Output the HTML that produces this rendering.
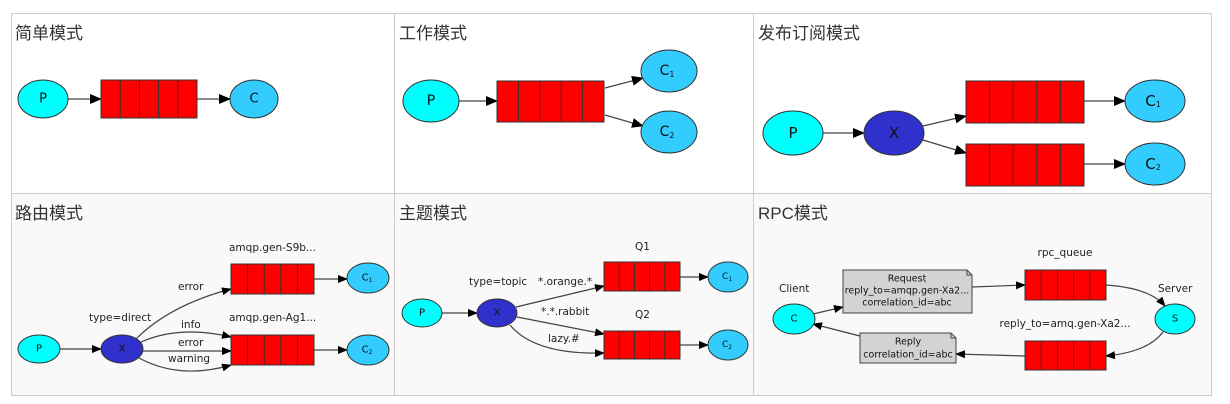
<!DOCTYPE html>
<html><head><meta charset="utf-8"><style>
html,body{margin:0;padding:0;background:#fff;width:1230px;height:404px;overflow:hidden}
svg{display:block}
.t{font-family:"Liberation Sans","Noto Sans CJK SC",sans-serif;font-size:17px;fill:#333}
.l{font-family:"DejaVu Sans","Liberation Sans",sans-serif;font-size:10.5px;fill:#222}
.n{font-family:"DejaVu Sans","Liberation Sans",sans-serif;fill:#111;text-anchor:middle;dominant-baseline:central}
.e{stroke:#333;stroke-width:1}
.a{stroke:#444;stroke-width:1.2;fill:none}
</style></head><body>
<svg width="1230" height="404" viewBox="0 0 1230 404" xmlns="http://www.w3.org/2000/svg">
<defs>
<marker id="m" markerWidth="12" markerHeight="10" refX="11" refY="5" orient="auto" markerUnits="userSpaceOnUse"><path d="M0,0 L12,5 L0,10 z" fill="#000"/></marker>
<marker id="s" markerWidth="10" markerHeight="8" refX="9" refY="4" orient="auto" markerUnits="userSpaceOnUse"><path d="M0,0 L10,4 L0,8 z" fill="#000"/></marker>
<g id="q5"><rect x="0" y="0" width="100" height="40" fill="#f00" stroke="#333"/></g>
</defs>
<rect x="11" y="193" width="1201" height="203" fill="#f9f9f9"/>
<g stroke="#ccc" stroke-width="1" fill="none">
<rect x="11.5" y="13.5" width="1200" height="382"/>
<line x1="11" y1="193.5" x2="1212" y2="193.5"/>
<line x1="394.5" y1="13" x2="394.5" y2="396"/>
<line x1="753.5" y1="13" x2="753.5" y2="396"/>
</g>
<text class="t" x="15" y="39">简单模式</text>
<text class="t" x="399" y="39">工作模式</text>
<text class="t" x="758" y="39">发布订阅模式</text>
<text class="t" x="15" y="219">路由模式</text>
<text class="t" x="399" y="219">主题模式</text>
<text class="t" x="758" y="219">RPC模式</text>

<!-- cell 1 -->
<line class="a" x1="68" y1="99" x2="101" y2="99" marker-end="url(#m)"/>
<line class="a" x1="197" y1="99" x2="230" y2="99" marker-end="url(#m)"/>
<ellipse class="e" cx="43" cy="99" rx="25" ry="19" fill="#0ff"/><text class="n" x="43" y="99" font-size="13">P</text>
<g stroke="#333" fill="#f00"><rect x="101" y="80" width="96" height="38"/><path d="M120.2,80v38M139.4,80v38M158.6,80v38M177.8,80v38"/></g>
<ellipse class="e" cx="254" cy="99" rx="24" ry="19" fill="#3cf"/><text class="n" x="254" y="99" font-size="13">C</text>

<!-- cell 2 -->
<line class="a" x1="459" y1="101" x2="497" y2="101" marker-end="url(#m)"/>
<line class="a" x1="605" y1="88" x2="643" y2="78" marker-end="url(#m)"/>
<line class="a" x1="605" y1="115" x2="643" y2="126" marker-end="url(#m)"/>
<ellipse class="e" cx="431" cy="101" rx="28" ry="21" fill="#0ff"/><text class="n" x="431" y="101" font-size="14">P</text>
<g stroke="#333" fill="#f00"><rect x="497" y="81" width="107" height="41"/><path d="M518.4,81v41M539.8,81v41M561.2,81v41M582.6,81v41"/></g>
<ellipse class="e" cx="669" cy="71" rx="28" ry="21" fill="#3cf"/><text class="n" x="667" y="71" font-size="14">C<tspan font-size="8" dy="3">1</tspan></text>
<ellipse class="e" cx="669" cy="132" rx="28" ry="21" fill="#3cf"/><text class="n" x="667" y="132" font-size="14">C<tspan font-size="8" dy="3">2</tspan></text>

<!-- cell 3 -->
<line class="a" x1="823" y1="133" x2="864" y2="133" marker-end="url(#m)"/>
<line class="a" x1="923" y1="126" x2="966" y2="116" marker-end="url(#m)"/>
<line class="a" x1="923" y1="140" x2="966" y2="153" marker-end="url(#m)"/>
<line class="a" x1="1084" y1="101" x2="1125" y2="101" marker-end="url(#m)"/>
<line class="a" x1="1084" y1="164" x2="1125" y2="164" marker-end="url(#m)"/>
<ellipse class="e" cx="793" cy="133" rx="30" ry="22" fill="#0ff"/><text class="n" x="793" y="133" font-size="15">P</text>
<ellipse class="e" cx="894" cy="133" rx="30" ry="22" fill="#3030cc"/><text class="n" x="894" y="133" font-size="15">X</text>
<g stroke="#333" fill="#f00"><rect x="966" y="81" width="118" height="42"/><path d="M989.6,81v42M1013.2,81v42M1036.8,81v42M1060.4,81v42"/>
<rect x="966" y="144" width="118" height="42"/><path d="M989.6,144v42M1013.2,144v42M1036.8,144v42M1060.4,144v42"/></g>
<ellipse class="e" cx="1155" cy="101" rx="30" ry="21" fill="#3cf"/><text class="n" x="1153" y="101" font-size="15">C<tspan font-size="8" dy="3">1</tspan></text>
<ellipse class="e" cx="1155" cy="164" rx="30" ry="21" fill="#3cf"/><text class="n" x="1153" y="164" font-size="15">C<tspan font-size="8" dy="3">2</tspan></text>

<!-- cell 4 -->
<line class="a" x1="60" y1="349" x2="101" y2="349" marker-end="url(#s)"/>
<path class="a" d="M136,339 Q170,305 231,289" marker-end="url(#s)"/>
<path class="a" d="M141,342 Q180,325 231,337" marker-end="url(#s)"/>
<line class="a" x1="143" y1="351" x2="231" y2="351" marker-end="url(#s)"/>
<path class="a" d="M139,358 Q180,380 231,365" marker-end="url(#s)"/>
<line class="a" x1="314" y1="279" x2="347" y2="279" marker-end="url(#s)"/>
<line class="a" x1="314" y1="350" x2="347" y2="350" marker-end="url(#s)"/>
<ellipse class="e" cx="39" cy="349" rx="21" ry="14" fill="#0ff"/><text class="n" x="39" y="349" font-size="10">P</text>
<ellipse class="e" cx="122" cy="349" rx="21" ry="14" fill="#3030cc"/><text class="n" x="122" y="349" font-size="10">X</text>
<g stroke="#333" fill="#f00"><rect x="231" y="264" width="83" height="30"/><path d="M247.6,264v30M264.2,264v30M280.8,264v30M297.4,264v30"/>
<rect x="231" y="335" width="83" height="30"/><path d="M247.6,335v30M264.2,335v30M280.8,335v30M297.4,335v30"/></g>
<ellipse class="e" cx="368" cy="278" rx="21" ry="15" fill="#3cf"/><text class="n" x="367" y="278" font-size="10">C<tspan font-size="6" dy="2">1</tspan></text>
<ellipse class="e" cx="368" cy="350" rx="21" ry="15" fill="#3cf"/><text class="n" x="367" y="350" font-size="10">C<tspan font-size="6" dy="2">2</tspan></text>
<text class="l" x="229" y="251">amqp.gen-S9b...</text>
<text class="l" x="229" y="321">amqp.gen-Ag1...</text>
<text class="l" x="178" y="290">error</text>
<text class="l" x="89" y="321">type=direct</text>
<text class="l" x="181" y="328">info</text>
<text class="l" x="178" y="346">error</text>
<text class="l" x="168" y="362">warning</text>

<!-- cell 5 -->
<line class="a" x1="442" y1="313" x2="477" y2="313" marker-end="url(#s)"/>
<line class="a" x1="516" y1="307" x2="604" y2="286" marker-end="url(#s)"/>
<line class="a" x1="517" y1="317" x2="604" y2="334" marker-end="url(#s)"/>
<path class="a" d="M510,325 Q535,355 604,353" marker-end="url(#s)"/>
<line class="a" x1="680" y1="277" x2="708" y2="277" marker-end="url(#s)"/>
<line class="a" x1="680" y1="345" x2="708" y2="345" marker-end="url(#s)"/>
<ellipse class="e" cx="422" cy="313" rx="20" ry="14" fill="#0ff"/><text class="n" x="422" y="313" font-size="10">P</text>
<ellipse class="e" cx="497" cy="313" rx="20" ry="14" fill="#3030cc"/><text class="n" x="497" y="313" font-size="10">X</text>
<g stroke="#333" fill="#f00"><rect x="604" y="262" width="76" height="29"/><path d="M619.2,262v29M634.4,262v29M649.6,262v29M664.8,262v29"/>
<rect x="604" y="331" width="76" height="28"/><path d="M619.2,331v28M634.4,331v28M649.6,331v28M664.8,331v28"/></g>
<ellipse class="e" cx="728" cy="277" rx="20" ry="15" fill="#3cf"/><text class="n" x="727" y="277" font-size="9">C<tspan font-size="6" dy="2">1</tspan></text>
<ellipse class="e" cx="728" cy="345" rx="20" ry="15" fill="#3cf"/><text class="n" x="727" y="345" font-size="9">C<tspan font-size="6" dy="2">2</tspan></text>
<text class="l" x="635" y="250">Q1</text>
<text class="l" x="635" y="318">Q2</text>
<text class="l" x="469" y="285">type=topic</text>
<text class="l" x="538" y="285">*.orange.*</text>
<text class="l" x="541" y="315">*.*.rabbit</text>
<text class="l" x="548" y="342">lazy.#</text>

<!-- cell 6 -->
<line class="a" x1="813" y1="314" x2="843" y2="307" marker-end="url(#s)"/>
<line class="a" x1="972" y1="287" x2="1025" y2="285" marker-end="url(#s)"/>
<path class="a" d="M1106,285 Q1150,288 1165,306" marker-end="url(#s)"/>
<path class="a" d="M1163,332 Q1148,352 1106,356" marker-end="url(#s)"/>
<line class="a" x1="1025" y1="356" x2="956" y2="354" marker-end="url(#s)"/>
<line class="a" x1="860" y1="336" x2="813" y2="324" marker-end="url(#s)"/>
<path d="M843,270 H967 L972,275 V313 H843 Z" fill="#d3d3d3" stroke="#444"/>
<path d="M967,270 V275 H972" fill="none" stroke="#444"/>
<path d="M860,333 H951 L956,338 V363 H860 Z" fill="#d3d3d3" stroke="#444"/>
<path d="M951,333 V338 H956" fill="none" stroke="#444"/>
<g class="n" font-size="9.5" style="font-family:'DejaVu Sans','Liberation Sans',sans-serif">
<text class="n" x="907" y="279" font-size="9.5">Request</text>
<text class="n" x="907" y="291" font-size="9.5">reply_to=amqp.gen-Xa2...</text>
<text class="n" x="907" y="303" font-size="9.5">correlation_id=abc</text>
<text class="n" x="908" y="342" font-size="9.5">Reply</text>
<text class="n" x="908" y="355" font-size="9.5">correlation_id=abc</text>
</g>
<g stroke="#333" fill="#f00"><rect x="1025" y="270" width="81" height="30"/><path d="M1041.2,270v30M1057.4,270v30M1073.6,270v30M1089.8,270v30"/>
<rect x="1025" y="341" width="81" height="29"/><path d="M1041.2,341v29M1057.4,341v29M1073.6,341v29M1089.8,341v29"/></g>
<ellipse class="e" cx="794" cy="319" rx="21" ry="15" fill="#0ff"/><text class="n" x="794" y="319" font-size="10">C</text>
<ellipse class="e" cx="1175" cy="319" rx="20" ry="15" fill="#0ff"/><text class="n" x="1175" y="319" font-size="10">S</text>
<text class="l" x="779" y="292">Client</text>
<text class="l" x="1158" y="292">Server</text>
<text class="l" x="1065" y="256" text-anchor="middle">rpc_queue</text>
<text class="l" x="1065" y="327" text-anchor="middle">reply_to=amq.gen-Xa2...</text>
</svg>
</body></html>
